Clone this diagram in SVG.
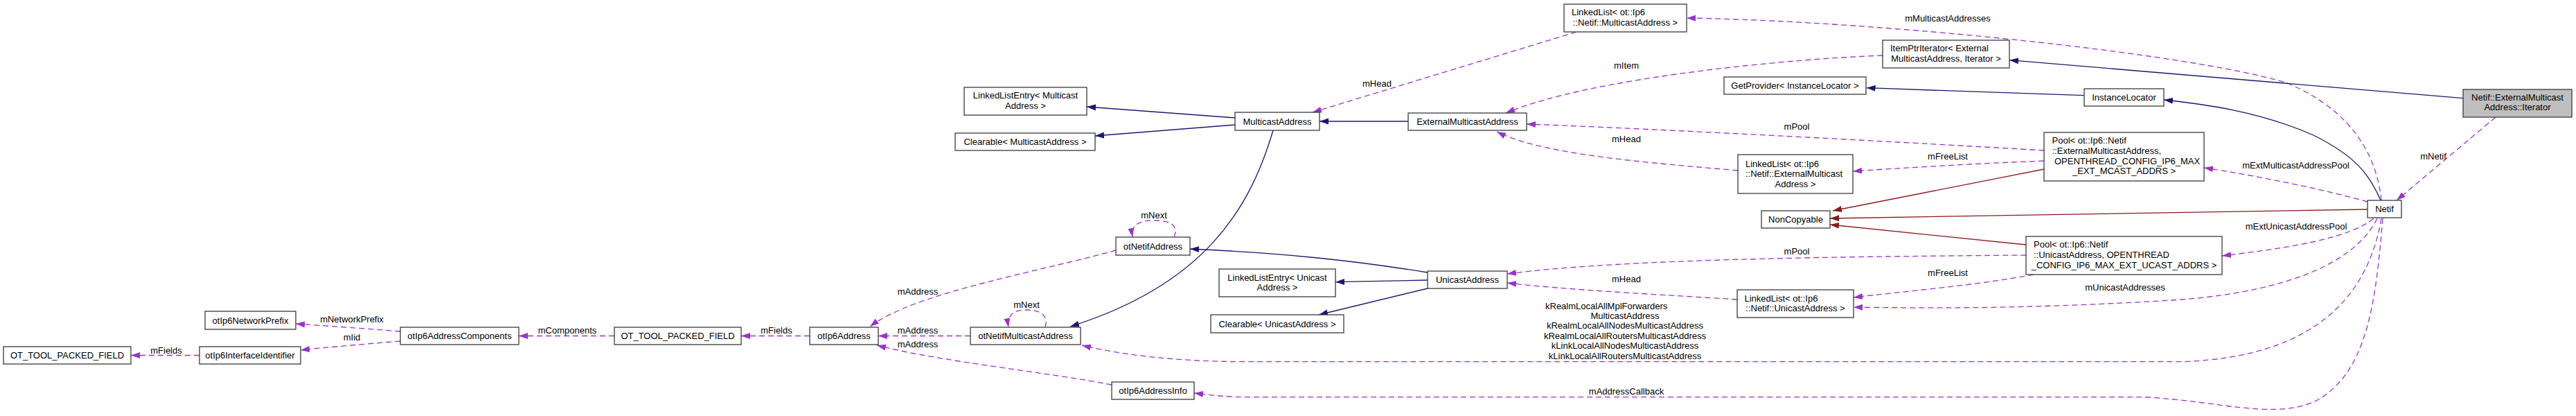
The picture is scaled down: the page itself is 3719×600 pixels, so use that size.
<svg xmlns="http://www.w3.org/2000/svg" width="3719" height="600" viewBox="0 0 3719 600">
<style>
  text { font-family: "Liberation Sans", Arial, sans-serif; font-size: 13px; fill: #000; }
  .c { text-anchor: middle; }
  .s { text-anchor: start; }
  .node rect { fill: #fff; stroke: #3a3a3a; stroke-width: 1.3; }
  .node.root rect { fill: #bfbfbf; }
  #edges path { fill: none; stroke-width: 1.3; }
  #edges path.u { stroke: #9a32cd; stroke-dasharray: 8 5; marker-end: url(#au); }
  #edges path.b { stroke: #191970; marker-end: url(#ab); }
  #edges path.r { stroke: #8b1a1a; marker-end: url(#ar); }
</style>
<defs>
  <marker id="au" markerWidth="14" markerHeight="10" refX="13" refY="5" orient="auto" markerUnits="userSpaceOnUse"><path d="M0,0.5 L13,5 L0,9.5 z" fill="#9a32cd"/></marker>
  <marker id="ab" markerWidth="14" markerHeight="10" refX="13" refY="5" orient="auto" markerUnits="userSpaceOnUse"><path d="M0,0.5 L13,5 L0,9.5 z" fill="#191970"/></marker>
  <marker id="ar" markerWidth="14" markerHeight="10" refX="13" refY="5" orient="auto" markerUnits="userSpaceOnUse"><path d="M0,0.5 L13,5 L0,9.5 z" fill="#8b1a1a"/></marker>
</defs>
<rect width="3719" height="600" fill="#fff"/>

<g id="edges">
  <path class="u" d="M288,512.5 L189,512.5"/>
  <path class="u" d="M578,478 C530,474 470,470 427,467"/>
  <path class="u" d="M578,492 C530,496 470,501 434,505"/>
  <path class="u" d="M887,484.5 L749,484.5"/>
  <path class="u" d="M1169,484.5 L1070,484.5"/>
  <path class="u" d="M1401,484.5 L1268,484.5"/>
  <path class="u" d="M1611,361 C1500,392 1320,422 1256,471"/>
  <path class="u" d="M1605,555 C1500,535 1360,522 1266,498"/>
  <path class="u" d="M1509,472 C1514,455 1502,447 1482,447 C1463,447 1453,455 1456,472"/>
  <path class="u" d="M1695,342 C1702,325 1690,318 1666,318 C1645,318 1632,324 1635,342"/>
  <path class="b" d="M1783,170 L1569,154"/>
  <path class="b" d="M1783,180 L1581,196"/>
  <path class="b" d="M1838,188 C1805,300 1740,410 1545,471"/>
  <path class="b" d="M2033,175 L1905,175"/>
  <path class="u" d="M2276,46 L1895,162"/>
  <path class="u" d="M2718,80 C2600,84 2300,110 2174,163"/>
  <path class="u" d="M2951,217 C2800,208 2400,186 2204,179"/>
  <path class="u" d="M2509,246 C2400,236 2230,225 2161,190"/>
  <path class="u" d="M3438,289 C3432,230 3400,160 3300,119 C3150,75 2700,30 2435,26"/>
  <path class="b" d="M3556,141.6 L2901,86.7"/>
  <path class="b" d="M3009,137.7 L2694.6,126.7"/>
  <path class="b" d="M3437,289 C3420,250 3400,225 3340,195 C3260,160 3180,150 3124,144"/>
  <path class="u" d="M3603,169 L3460,289"/>
  <path class="u" d="M3418,291 C3350,272 3250,252 3182,242"/>
  <path class="r" d="M3418,302 L2642,315"/>
  <path class="r" d="M2951,244 L2646,304"/>
  <path class="r" d="M2925,353 L2642,324"/>
  <path class="u" d="M2951,232 C2850,236 2750,242 2675,247"/>
  <path class="u" d="M3427,315 C3390,345 3300,358 3208,369"/>
  <path class="u" d="M2925,368 C2700,370 2350,372 2176,395"/>
  <path class="u" d="M2936,396 C2850,412 2750,420 2676,429"/>
  <path class="u" d="M3432,315 C3400,380 3300,420 3150,432 C2950,445 2800,445 2676,443"/>
  <path class="u" d="M2508,432 C2400,425 2260,418 2176,408"/>
  <path class="b" d="M2061,393 C1950,375 1850,365 1718,359"/>
  <path class="b" d="M2061,404 L1928,406.7"/>
  <path class="b" d="M2061,416 L1904,454"/>
  <path class="u" d="M3438,315 C3420,420 3350,515 3150,521.7 L1800,521.7 C1700,521.7 1620,512 1562,498"/>
  <path class="u" d="M3440,315 C3430,430 3420,540 3340,580 C3280,605 3200,578 3096,572.7 L1800,572.7 C1770,572.7 1750,570 1724,567"/>
</g>

<g id="edge-labels">
  <text class="c" x="240" y="509.5">mFields</text>
  <text class="c" x="508" y="465">mNetworkPrefix</text>
  <text class="c" x="508" y="491">mIid</text>
  <text class="c" x="819" y="481">mComponents</text>
  <text class="c" x="1121" y="481">mFields</text>
  <text class="c" x="1325" y="481">mAddress</text>
  <text class="c" x="1325" y="425">mAddress</text>
  <text class="c" x="1325" y="501">mAddress</text>
  <text class="c" x="1482" y="443.8">mNext</text>
  <text class="c" x="1666" y="314.5">mNext</text>
  <text class="c" x="1988" y="125">mHead</text>
  <text class="c" x="2348" y="98.8">mItem</text>
  <text class="c" x="2594" y="187">mPool</text>
  <text class="c" x="2348" y="205">mHead</text>
  <text class="c" x="2812" y="31">mMulticastAddresses</text>
  <text class="c" x="3513" y="230.3">mNetif</text>
  <text class="c" x="3314.5" y="242.5">mExtMulticastAddressPool</text>
  <text class="c" x="2812" y="230">mFreeList</text>
  <text class="c" x="3315" y="331">mExtUnicastAddressPool</text>
  <text class="c" x="2594" y="367">mPool</text>
  <text class="c" x="2812" y="397.8">mFreeList</text>
  <text class="c" x="3068" y="418.8">mUnicastAddresses</text>
  <text class="c" x="2348" y="407">mHead</text>
  <text class="s" x="2231" y="445.5">kRealmLocalAllMplForwarders</text>
  <text class="c" x="2346" y="460">MulticastAddress</text>
  <text class="c" x="2346" y="474.4">kRealmLocalAllNodesMulticastAddress</text>
  <text class="c" x="2346" y="488.9">kRealmLocalAllRoutersMulticastAddress</text>
  <text class="c" x="2346" y="503.3">kLinkLocalAllNodesMulticastAddress</text>
  <text class="c" x="2346" y="517.8">kLinkLocalAllRoutersMulticastAddress</text>
  <text class="c" x="2348" y="568.8">mAddressCallback</text>
</g>

<g id="n_ot_tool_packed_field_1" class="node"><rect x="5" y="500" width="184" height="25"/><text class="c" x="97" y="517">OT_TOOL_PACKED_FIELD</text></g>
<g id="n_otIp6NetworkPrefix" class="node"><rect x="296" y="449" width="131" height="26"/><text class="c" x="361.5" y="466.5">otIp6NetworkPrefix</text></g>
<g id="n_otIp6InterfaceIdentifier" class="node"><rect x="288" y="500" width="146" height="25"/><text class="c" x="361" y="517">otIp6InterfaceIdentifier</text></g>
<g id="n_otIp6AddressComponents" class="node"><rect x="578" y="472" width="171" height="25"/><text class="c" x="663.5" y="489">otIp6AddressComponents</text></g>
<g id="n_ot_tool_packed_field_2" class="node"><rect x="887" y="472" width="183" height="25"/><text class="c" x="978.5" y="489">OT_TOOL_PACKED_FIELD</text></g>
<g id="n_otIp6Address" class="node"><rect x="1169" y="472" width="99" height="25"/><text class="c" x="1218.5" y="489">otIp6Address</text></g>
<g id="n_otNetifMulticastAddress" class="node"><rect x="1401" y="472" width="159" height="25"/><text class="c" x="1480.5" y="489">otNetifMulticastAddress</text></g>
<g id="n_otIp6AddressInfo" class="node"><rect x="1605" y="551" width="119" height="25"/><text class="c" x="1664.5" y="568">otIp6AddressInfo</text></g>
<g id="n_otNetifAddress" class="node"><rect x="1611" y="342" width="107" height="26"/><text class="c" x="1664.5" y="359.5">otNetifAddress</text></g>
<g id="n_LinkedListEntry_Multicast" class="node"><rect x="1392" y="126" width="177" height="40"/><text class="c" x="1480.5" y="142">LinkedListEntry&lt; Multicast</text><text class="c" x="1480.5" y="157">Address &gt;</text></g>
<g id="n_Clearable_Multicast" class="node"><rect x="1379" y="192" width="202" height="25"/><text class="c" x="1480" y="209">Clearable&lt; MulticastAddress &gt;</text></g>
<g id="n_MulticastAddress" class="node"><rect x="1783" y="162" width="122" height="26"/><text class="c" x="1844" y="179.5">MulticastAddress</text></g>
<g id="n_ExternalMulticastAddress" class="node"><rect x="2033" y="163" width="171" height="25"/><text class="c" x="2118.5" y="180">ExternalMulticastAddress</text></g>
<g id="n_LinkedList_Multicast" class="node"><rect x="2258" y="6" width="177" height="40"/><text class="s" x="2269" y="21.5">LinkedList&lt; ot::Ip6</text><text class="c" x="2346.5" y="37">::Netif::MulticastAddress &gt;</text></g>
<g id="n_ItemPtrIterator" class="node"><rect x="2718" y="58" width="183" height="40"/><text class="s" x="2729" y="73.8">ItemPtrIterator&lt; External</text><text class="c" x="2809.5" y="88.8">MulticastAddress, Iterator &gt;</text></g>
<g id="n_GetProvider" class="node"><rect x="2489" y="111" width="205" height="25"/><text class="c" x="2591.5" y="128">GetProvider&lt; InstanceLocator &gt;</text></g>
<g id="n_InstanceLocator" class="node"><rect x="3009" y="128" width="115" height="25"/><text class="c" x="3066.5" y="145">InstanceLocator</text></g>
<g id="n_LinkedList_External" class="node"><rect x="2509" y="223" width="166" height="56"/><text class="s" x="2520" y="240.5">LinkedList&lt; ot::Ip6</text><text class="s" x="2520" y="255.2">::Netif::ExternalMulticast</text><text class="c" x="2592" y="269.5">Address &gt;</text></g>
<g id="n_NonCopyable" class="node"><rect x="2543" y="304" width="99" height="25"/><text class="c" x="2592.5" y="321">NonCopyable</text></g>
<g id="n_Pool_External" class="node"><rect x="2951" y="191" width="231" height="70"/><text class="s" x="2962.5" y="206.8">Pool&lt; ot::Ip6::Netif</text><text class="s" x="2962.5" y="221.8">::ExternalMulticastAddress,</text><text class="s" x="2966" y="236.8">OPENTHREAD_CONFIG_IP6_MAX</text><text class="c" x="3066.5" y="250.5">_EXT_MCAST_ADDRS &gt;</text></g>
<g id="n_Pool_Unicast" class="node"><rect x="2925" y="341" width="283" height="55"/><text class="s" x="2936" y="356.8">Pool&lt; ot::Ip6::Netif</text><text class="s" x="2936" y="371.8">::UnicastAddress, OPENTHREAD</text><text class="c" x="3066.5" y="386.8">_CONFIG_IP6_MAX_EXT_UCAST_ADDRS &gt;</text></g>
<g id="n_LinkedListEntry_Unicast" class="node"><rect x="1760" y="388" width="168" height="40"/><text class="c" x="1844" y="405">LinkedListEntry&lt; Unicast</text><text class="c" x="1844" y="419">Address &gt;</text></g>
<g id="n_Clearable_Unicast" class="node"><rect x="1748" y="454" width="192" height="26"/><text class="c" x="1844" y="471.5">Clearable&lt; UnicastAddress &gt;</text></g>
<g id="n_UnicastAddress" class="node"><rect x="2061" y="391" width="115" height="25"/><text class="c" x="2118.5" y="408">UnicastAddress</text></g>
<g id="n_LinkedList_Unicast" class="node"><rect x="2508" y="418" width="168" height="40"/><text class="s" x="2518.5" y="434.5">LinkedList&lt; ot::Ip6</text><text class="c" x="2592" y="448.8">::Netif::UnicastAddress &gt;</text></g>
<g id="n_Netif" class="node"><rect x="3418" y="289" width="49" height="25"/><text class="c" x="3442.5" y="306">Netif</text></g>
<g id="n_Iterator" class="node root"><rect x="3556" y="129" width="157" height="40"/><text class="c" x="3634.5" y="145">Netif::ExternalMulticast</text><text class="c" x="3634.5" y="159">Address::Iterator</text></g>
</svg>
